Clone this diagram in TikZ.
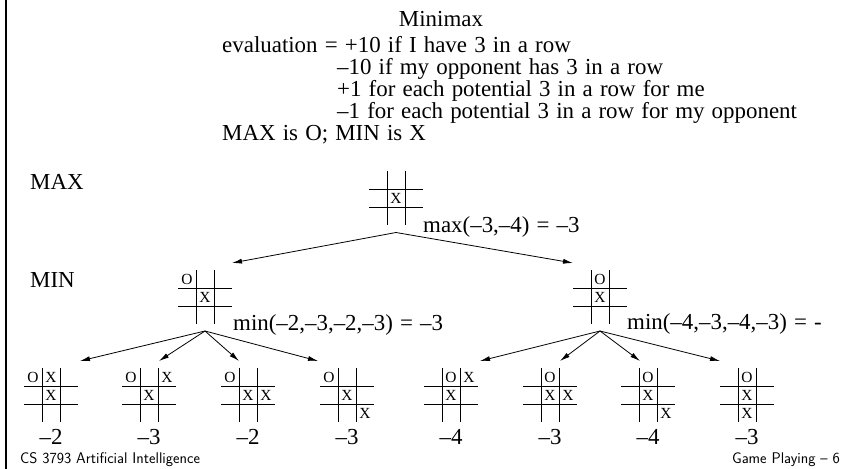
\documentclass[tikz,border=0pt]{standalone}
\usepackage{fontspec}
\setmainfont{Liberation Serif}[WordSpace=1.25]
\usetikzlibrary{arrows.meta, positioning}

\tikzset{
	boardbox/.style={minimum width=54bp, minimum height=68bp, inner sep=0pt, outer sep=0pt},
	gridline/.style={line width=0.8bp},
	cellmark/.style={font=\fontsize{15.5}{15.5}\selectfont, inner sep=0pt},
	txt/.style={font=\fontsize{23}{23}\selectfont, inner sep=0pt},
	foot/.style={font=\sffamily\fontsize{15.5}{15.5}\selectfont, inner sep=0pt},
	move/.style={-{Latex[length=10bp,width=5bp]}, line width=0.8bp},
}

% board: name, x, y, marks (col/row/letter)
\newcommand{\tttboard}[4]{%
	\node[boardbox] (#1) at (#2,#3) {};
	\foreach \d in {-9,9} {
		\draw[gridline] ([yshift=\d bp]#1.west) -- ([yshift=\d bp]#1.east);
		\draw[gridline] ([xshift=\d bp,yshift=-7bp]#1.north) -- ([xshift=\d bp,yshift=7bp]#1.south);
	}
	\foreach \c/\r/\m in {#4}
	\node[cellmark] (#1-\c\r) at ([xshift={(\c-1)*18bp}, yshift={(1-\r)*18bp}]#1.center) {\m};
}

\begin{document}
\begin{tikzpicture}[x=1bp, y=-1bp]
	
	\useasboundingbox (0,0) rectangle (842,469);
	
	% Left rule
	\draw[line width=2bp] (6,0) -- (6,469);
	
	% Heading and evaluation
	\node[txt, anchor=base] (title) at (441,27) {Minimax};
	\node[txt, anchor=base west] (evalwin) at (222,53) {evaluation = +10 if I have 3 in a row};
	\node[txt, anchor=base west] (evallose) at (337,75) {--10 if my opponent has 3 in a row};
	\node[txt, anchor=base west] (evalme) at (337,97) {+1 for each potential 3 in a row for me};
	\node[txt, anchor=base west] (evalopp) at (337,119) {--1 for each potential 3 in a row for my opponent};
	\node[txt, anchor=base west] (players) at (222,141) {MAX is O; MIN is X};
	
	% Level labels
	\node[txt, anchor=base west] (maxlbl) at (30,190) {MAX};
	\node[txt, anchor=base west] (minlbl) at (30,288) {MIN};
	
	% --- Boards ---
	\tttboard{root}{396}{198.5}{1/1/X}
	\tttboard{mleft}{205}{297}{0/0/O, 1/1/X}
	\tttboard{mright}{600}{297}{1/0/O, 1/1/X}
	
	\tttboard{l1}{51}{395}{0/0/O, 1/0/X, 1/1/X}
	\tttboard{l2}{149}{395}{0/0/O, 2/0/X, 1/1/X}
	\tttboard{l3}{248}{395}{0/0/O, 1/1/X, 2/1/X}
	\tttboard{l4}{347}{395}{0/0/O, 1/1/X, 2/2/X}
	
	\tttboard{r1}{451}{395}{1/0/O, 2/0/X, 1/1/X}
	\tttboard{r2}{550}{395}{1/0/O, 1/1/X, 2/1/X}
	\tttboard{r3}{648}{395}{1/0/O, 1/1/X, 2/2/X}
	\tttboard{r4}{747}{395}{1/0/O, 1/1/X, 1/2/X}
	
	% Backed-up values
	\node[txt, anchor=base west] (maxval) at (423,233) {max(--3,--4) = --3};
	\node[txt, anchor=base west] (minvall) at (233,331) {min(--2,--3,--2,--3) = --3};
	\node[txt, anchor=base west] (minvalr) at (627,330) {min(--4,--3,--4,--3) = -};
	
	% Leaf values
	\node[txt, below=0bp of l1] (v1) {--2};
	\node[txt, below=0bp of l2] (v2) {--3};
	\node[txt, below=0bp of l3] (v3) {--2};
	\node[txt, below=0bp of l4] (v4) {--3};
	\node[txt, below=0bp of r1] (v5) {--4};
	\node[txt, below=0bp of r2] (v6) {--3};
	\node[txt, below=0bp of r3] (v7) {--4};
	\node[txt, below=0bp of r4] (v8) {--3};
	
	% --- Moves ---
	\draw[move] (root.south) -- (mleft.north east);
	\draw[move] (root.south) -- (mright.north west);
	
	\draw[move] (mleft.south) -- ([xshift=2bp]l1.north east);
	\draw[move] (mleft.south) -- ([xshift=10bp]l2.north);
	\draw[move] (mleft.south) -- ([xshift=-9bp]l3.north);
	\draw[move] (mleft.south) -- ([xshift=-2bp]l4.north west);
	
	\draw[move] (mright.south) -- ([xshift=2bp]r1.north east);
	\draw[move] (mright.south) -- ([xshift=10bp]r2.north);
	\draw[move] (mright.south) -- ([xshift=-8bp]r3.north);
	\draw[move] (mright.south) -- (r4.north west);
	
	% Footer
	\node[foot, anchor=base west] (course) at (20,463) {CS 3793 Artificial Intelligence};
	\node[foot, anchor=base east] (slide) at (840,463) {Game Playing -- 6};
	
\end{tikzpicture}
\end{document}
